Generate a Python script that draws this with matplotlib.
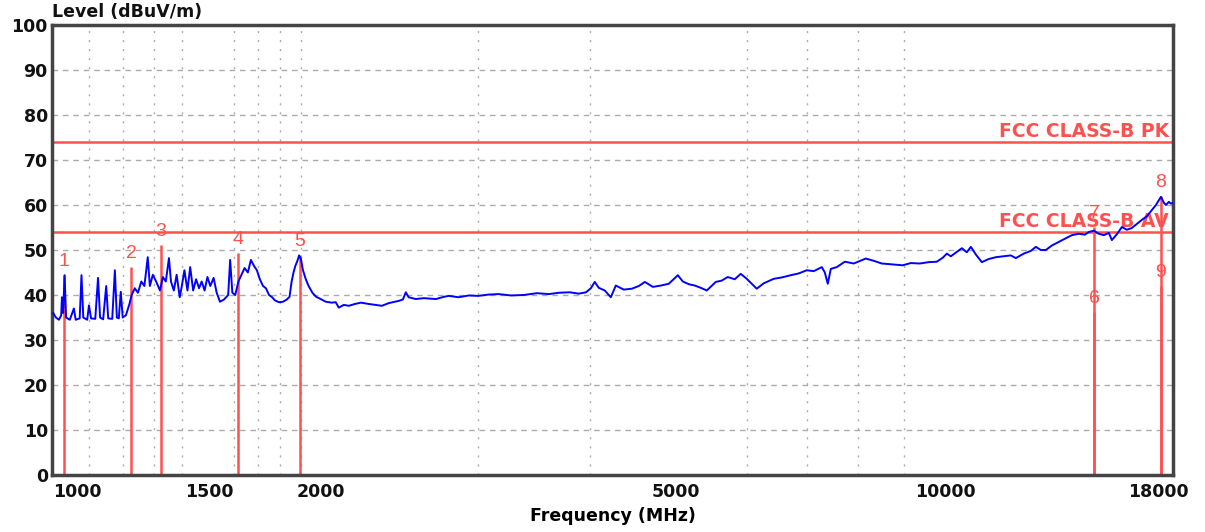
import numpy as np
import matplotlib
matplotlib.use("Agg")
import matplotlib.pyplot as plt
from matplotlib.ticker import FixedLocator, NullFormatter
import matplotlib.transforms as mtransforms

# --- Dane: widmo (MHz, dBuV/m) ---
freq_mhz = [
    1003, 1010, 1018, 1024, 1026, 1029, 1033, 1037, 1047, 1058, 1063, 1074, 1079, 1084,
    1095, 1100, 1106, 1118, 1126, 1132, 1141, 1150, 1156, 1168, 1176, 1182, 1188, 1194,
    1200, 1210, 1221, 1228, 1238, 1248, 1259, 1269, 1280, 1287, 1297, 1310, 1321, 1331,
    1341, 1352, 1359, 1369, 1379, 1390, 1397, 1407, 1418, 1428, 1439, 1450, 1461, 1471,
    1482, 1493, 1504, 1517, 1529, 1542, 1558, 1575, 1583, 1592, 1604, 1617, 1630, 1643,
    1657, 1670, 1683, 1696, 1709, 1723, 1736, 1750, 1764, 1777, 1795, 1814, 1832, 1845,
    1855, 1864, 1873, 1882, 1891, 1900, 1910, 1924, 1938, 1957, 1976, 1995,
    2026, 2057, 2078, 2095, 2122, 2150, 2183, 2218, 2264, 2300, 2341, 2383, 2446, 2471,
    2490, 2508, 2555, 2608, 2691, 2747, 2782, 2854, 2929, 3000, 3084, 3165, 3265, 3375,
    3491, 3601, 3695, 3801, 3890, 3962, 4012, 4053, 4095, 4159, 4224, 4279, 4368, 4460,
    4541, 4612, 4708, 4806, 4906, 5021, 5086, 5165, 5246, 5327, 5410, 5537, 5623, 5710,
    5815, 5905, 5997, 6075, 6154, 6266, 6430, 6564, 6719, 6859, 7001, 7129, 7278, 7335,
    7391, 7449, 7565, 7723, 7903, 8151, 8321, 8494, 8716, 8967, 9154, 9369, 9589, 9790,
    9943, 10047, 10151, 10310, 10443, 10579, 10688, 10827, 10995, 11194, 11399, 11635,
    11848, 12002, 12251, 12476, 12638, 12802, 12969, 13171, 13410, 13619, 13868, 14120,
    14340, 14488, 14677, 14867, 15060, 15256, 15375, 15574, 15776, 15981, 16189, 16399,
    16612, 16828, 17047, 17224, 17448, 17583, 17675, 17810, 17904, 18000,
]
level_dbuv = [
    36.0, 35.0, 34.5, 35.5, 39.5, 36.0, 44.4, 35.0, 34.5, 37.0, 34.5, 34.8, 44.4, 35.0,
    34.5, 37.7, 34.8, 34.7, 43.8, 35.0, 34.6, 42.0, 34.8, 34.7, 45.5, 35.0, 34.8, 40.7,
    35.0, 35.5, 38.0, 40.0, 41.5, 40.5, 43.0, 42.0, 48.4, 42.0, 44.5, 42.7, 41.0, 44.0,
    43.0, 48.2, 43.0, 41.0, 44.5, 39.5, 41.8, 45.5, 41.0, 46.2, 41.0, 43.5, 41.5, 43.0,
    41.0, 44.0, 42.0, 43.8, 40.5, 38.5, 39.0, 40.0, 47.8, 40.5, 40.0, 43.0, 44.5, 46.0,
    45.0, 47.8, 46.5, 45.5, 43.5, 42.0, 41.5, 40.0, 39.5, 38.8, 38.4, 38.5, 39.0, 39.6,
    43.0, 45.0, 46.5, 47.5, 48.8, 48.0, 45.5, 43.5, 42.0, 40.5, 39.6, 39.2,
    38.5, 38.3, 38.4, 37.2, 37.8, 37.6, 38.0, 38.3, 38.0, 37.8, 37.6, 38.2, 38.7, 39.0,
    40.6, 39.5, 39.1, 39.3, 39.1, 39.6, 39.8, 39.5, 39.9, 39.8, 40.1, 40.2, 39.9, 40.0,
    40.4, 40.2, 40.5, 40.6, 40.3, 40.6, 41.5, 42.9, 41.6, 41.0, 39.5, 42.1, 41.2, 41.4,
    42.0, 42.9, 41.8, 42.1, 42.5, 44.4, 43.0, 42.4, 42.1, 41.6, 41.0, 42.9, 43.2, 44.0,
    43.5, 44.7, 43.6, 42.5, 41.4, 42.6, 43.6, 43.9, 44.4, 44.8, 45.5, 45.3, 46.2, 45.0,
    42.5, 45.8, 46.2, 47.4, 47.0, 48.1, 47.6, 47.0, 46.8, 46.6, 47.1, 47.0, 47.3, 47.4,
    48.3, 49.2, 48.6, 49.6, 50.4, 49.5, 50.7, 49.0, 47.3, 48.0, 48.4, 48.6,
    48.8, 48.2, 49.2, 49.8, 50.7, 50.0, 50.0, 51.0, 51.8, 52.5, 53.3, 53.6,
    53.4, 54.0, 54.3, 53.6, 53.3, 53.8, 52.2, 53.5, 55.1, 54.5, 54.9, 55.8,
    56.7, 57.5, 58.9, 60.0, 61.8, 60.5, 60.0, 60.7, 60.3, 60.5,
]

# Markery (numer, czestotliwosc MHz, poziom dBuV/m)
marker_ids = ['1', '2', '3', '4', '5', '6', '7', '8', '9']
marker_freq = [1031, 1226, 1325, 1616, 1895, 14700, 14700, 17450, 17450]
marker_level = [44.4, 46.2, 51.1, 49.3, 48.9, 36.3, 55.2, 61.9, 42.0]

# Linie graniczne
limit_names = ['FCC CLASS-B PK', 'FCC CLASS-B AV']
limit_values = [74, 54]

# Osie
x_major = [1000, 1500, 2000, 5000, 10000, 18000]
x_grid = [1100, 1200, 1300, 1400, 1500, 1600, 1700, 1800, 1900, 2000,
          3000, 4000, 5000, 6000, 7000, 8000, 9000, 10000]
y_ticks = list(range(0, 101, 10))

red = '#ff5050'

fig = plt.figure(figsize=(12.05, 5.32), dpi=100)
ax = fig.add_axes([52 / 1205, 57 / 532, 1121 / 1205, 450 / 532])

ax.set_xscale('log')
ax.set_xlim(1000, 18000)
ax.set_ylim(0, 100)

# siatka
ax.xaxis.set_major_locator(FixedLocator(x_major))
ax.xaxis.set_minor_locator(FixedLocator(x_grid))
ax.xaxis.set_minor_formatter(NullFormatter())
ax.set_xticklabels([str(v) for v in x_major])
ax.set_yticks(y_ticks)
ax.grid(axis='y', which='major', color='#ababab', linestyle=(0, (4, 3.5)), linewidth=1)
ax.grid(axis='x', which='minor', color='#ababab', linestyle=(0, (1.5, 5)), linewidth=1)
ax.grid(axis='x', which='major', visible=False)
ax.set_axisbelow(True)

ax.tick_params(axis='both', which='both', length=0)
ax.tick_params(axis='y', pad=3)
ax.tick_params(axis='x', pad=6)
for lab in ax.get_yticklabels() + ax.get_xticklabels():
    lab.set_fontfamily('DejaVu Sans')
    lab.set_fontweight('bold')
    lab.set_fontsize(12.5)
    lab.set_color('#111111')

# przesuniecie skrajnych etykiet osi X
xl = ax.get_xticklabels()
xl[0].set_transform(xl[0].get_transform() + mtransforms.ScaledTranslation(25 / 100, 0, fig.dpi_scale_trans))
xl[-1].set_transform(xl[-1].get_transform() + mtransforms.ScaledTranslation(-15 / 100, 0, fig.dpi_scale_trans))

for sp in ax.spines.values():
    sp.set_color('#444444')
    sp.set_linewidth(2.5)

# linie graniczne
for name, val in zip(limit_names, limit_values):
    ax.axhline(val, color=red, linewidth=1.8, zorder=2)
    ax.text(0.9965, val + 1.1, name, transform=ax.get_yaxis_transform(),
            ha='right', va='baseline', color=red, fontsize=13.5,
            fontweight='bold', family='DejaVu Sans', zorder=3)

# markery
for mid, f, lv in zip(marker_ids, marker_freq, marker_level):
    ax.vlines(f, 0, lv, color=red, linewidth=1.8, zorder=2)
    ax.text(f, lv + 3.0, mid, ha='center', va='center', color=red,
            fontsize=14, family='Liberation Sans', zorder=5)

# widmo
ax.plot(freq_mhz, level_dbuv, color='#0000ff', linewidth=1.4, zorder=4)

ax.set_xlabel('Frequency (MHz)', fontsize=12.5, fontweight='bold',
              family='DejaVu Sans', labelpad=4)
fig.text(52 / 1205, 1 - 12 / 532, 'Level (dBuV/m)', ha='left', va='center',
         fontsize=12.5, fontweight='bold', family='DejaVu Sans', color='#111111')

plt.savefig('out.png', dpi=100)
plt.close()
